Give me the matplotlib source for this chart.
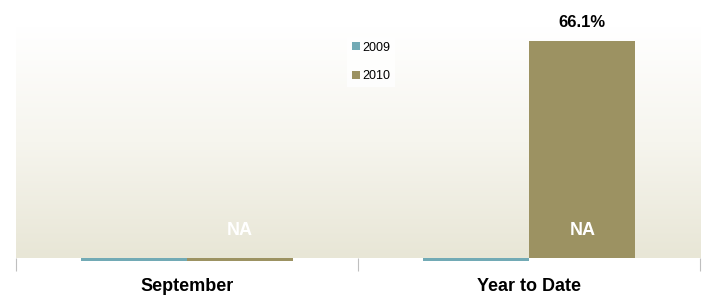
import numpy as np
import matplotlib
matplotlib.use('Agg')
import matplotlib.pyplot as plt
from matplotlib.colors import LinearSegmentedColormap

# chart data
categories = ["September", "Year to Date"]
years = ["2009", "2010"]
values_2009 = [-0.9, -0.9]
values_2010 = [-0.9, 66.1]
bar_labels_2010 = ["NA", "NA"]
top_labels_2010 = ["", "66.1%"]

colors = {"2009": "#72AAB5", "2010": "#9C9262"}

plt.rcParams['font.family'] = ['Liberation Sans', 'DejaVu Sans']

fig = plt.figure(figsize=(7.13, 2.97), dpi=100)
ax = fig.add_axes([0.0224, 0.131, 0.96, 0.778])

# gradient background (white at top to beige at bottom)
cmap = LinearSegmentedColormap.from_list("bg", ["#E8E6D6", "#F6F5EE", "#FFFFFF"])
grad = np.linspace(0, 1, 256).reshape(-1, 1)
ax.imshow(grad, cmap=cmap, aspect='auto', origin='lower',
          extent=[0, 1, 0, 1], transform=ax.transAxes, zorder=0)

x = np.arange(len(categories))
width = 0.31
b1 = ax.bar(x - width / 2, values_2009, width, color=colors["2009"], label="2009",
            zorder=2, clip_on=False)
b2 = ax.bar(x + width / 2, values_2010, width, color=colors["2010"], label="2010",
            zorder=2, clip_on=False)

for rect, txt in zip(b2, bar_labels_2010):
    ax.text(rect.get_x() + rect.get_width() / 2, 8.5, txt, ha='center', va='center',
            color='white', fontsize=13, fontweight='bold', zorder=3)
for rect, txt, v in zip(b2, top_labels_2010, values_2010):
    if txt:
        ax.text(rect.get_x() + rect.get_width() / 2, v + 3.5, txt, ha='center', va='bottom',
                fontsize=12, fontweight='bold', clip_on=False)

ax.set_xlim(-0.5, 1.5)
ax.set_ylim(0, 70.4)

for s in ax.spines.values():
    s.set_visible(False)
ax.set_yticks([])
ax.set_xticks([-0.5, 0.5, 1.5])
ax.set_xticklabels([])
ax.tick_params(axis='x', length=9, color='#BFBFBF', width=0.8)
ax.set_xticks(x, minor=True)
ax.set_xticklabels(categories, minor=True, fontsize=13, fontweight='bold')
ax.tick_params(axis='x', which='minor', length=0, pad=14)

leg = ax.legend(loc='upper left', bbox_to_anchor=(0.475, 0.985), frameon=True,
                fontsize=9, handlelength=0.6, handleheight=0.6, handletextpad=0.2,
                labelspacing=1.3, borderpad=0.4, fancybox=False)
leg.get_frame().set_facecolor('white')
leg.get_frame().set_edgecolor('none')

fig.savefig("out.png", dpi=100)
